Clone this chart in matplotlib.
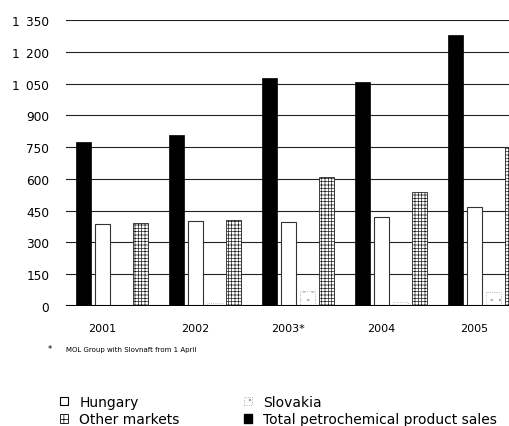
import numpy as np
import matplotlib
matplotlib.use('Agg')
from matplotlib import pyplot as plt
from matplotlib.patches import Patch

years = ['2001', '2002', '2003*', '2004', '2005']
total = [776, 806, 1075, 1056, 1279]
hungary = [386, 401, 396, 420, 468]
slovakia = [5, 12, 70, 20, 65]
other = [393, 407, 611, 539, 752]
yticks = [0, 150, 300, 450, 600, 750, 900, 1050, 1200, 1350]

plt.rcParams['font.family'] = 'DejaVu Sans'
plt.rcParams['hatch.linewidth'] = 0.5

fig = plt.figure(figsize=(5.1, 4.27), dpi=100)
ax = fig.add_axes([66/510, 120/427, 1 - 66/510, 286/427])

x = np.arange(len(years))
step = 0.204
w = 0.161

# gridlines behind the bars
for v in yticks[1:]:
    ax.axhline(v, color='#222222', lw=0.8, zorder=0)
ax.axhline(0, color='black', lw=1.5, zorder=3)

ax.bar(x - step, total, w, color='black', edgecolor='black', lw=0.5, zorder=2)
ax.bar(x, hungary, w, color='white', edgecolor='#333333', lw=0.8, zorder=2)
ax.bar(x + step, slovakia, w, color='white', edgecolor='#aaaaaa', lw=0.6,
       ls=':', hatch='..', zorder=2)
ax.bar(x + 2 * step, other, w, color='white', edgecolor='#222222', lw=0.6,
       hatch='+++++', zorder=2)

ax.set_xlim(-0.387, 4.382)
ax.set_ylim(0, 1350)
ax.set_yticks(yticks)
ax.set_yticklabels([f'{v:,}'.replace(',', '\u2009 ') if v >= 1000 else str(v) for v in yticks],
                   fontsize=8.7)
ax.set_xticks(x)
ax.set_xticklabels(years, fontsize=8)
ax.tick_params(axis='y', length=0, pad=12)
ax.tick_params(axis='x', length=0, pad=12)
for s in ax.spines.values():
    s.set_visible(False)

fig.text(48/510, 1 - 350/427, '*', fontsize=6, va='center')
fig.text(66/510, 1 - 350/427, 'MOL Group with Slovnaft from 1 April', fontsize=5, va='center')

handles = [
    Patch(facecolor='white', edgecolor='black', lw=0.8, label='Hungary'),
    Patch(facecolor='white', edgecolor='black', lw=0.6, hatch='+++', label='Other markets'),
    Patch(facecolor='white', edgecolor='#999999', lw=0.6, ls=':', hatch='..', label='Slovakia'),
    Patch(facecolor='black', edgecolor='black', label='Total petrochemical product sales'),
]
fig.legend(handles=handles, ncol=2, loc='upper left', bbox_to_anchor=(53/510, 1 - 389/427),
           frameon=False, fontsize=10, borderpad=0, handlelength=0.6, handleheight=0.6,
           handletextpad=0.8, columnspacing=4.6, labelspacing=0.22)

fig.savefig('out.png', dpi=100)
